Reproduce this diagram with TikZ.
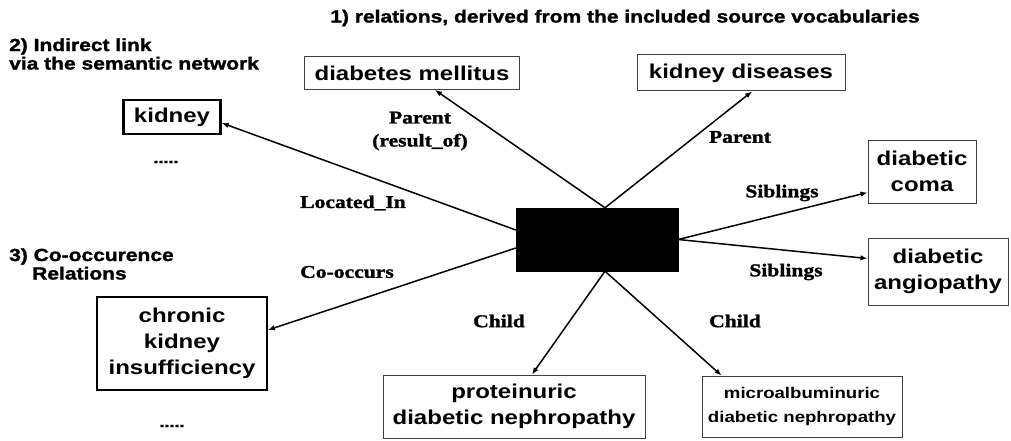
\documentclass[tikz,border=0pt]{standalone}
\usepackage{fontspec}
\setmainfont{Liberation Sans}
\newfontfamily\hfont[FakeStretch=1.2,FakeBold=1.5]{Liberation Sans Bold}
\newfontfamily\bxfont[FakeStretch=1.2]{Liberation Sans Bold}
\newfontfamily\lbfont[FakeStretch=1.2,FakeBold=1.5]{Liberation Serif Bold}
\usetikzlibrary{arrows.meta}
\tikzset{
  heading/.style={font=\hfont\fontsize{17.5}{18.5}\selectfont, inner sep=0, align=left},
  cbox/.style={draw=black!75, line width=1pt, inner sep=0, align=center,
    font=\bxfont\fontsize{20}{26}\selectfont},
  rel/.style={font=\lbfont\fontsize{18}{23}\selectfont, inner sep=0, align=center},
  conn/.style={line width=1.5pt, -{Latex[length=7pt,width=5.5pt]}},
  dots/.style={font=\hfont\fontsize{15}{15}\selectfont, inner sep=0}
}
\begin{document}
\begin{tikzpicture}[x=1pt,y=-1pt]
\path[use as bounding box, fill=white] (0,0) rectangle (1011,441);
% headings
\node[heading] (t1) at (625,18) {1) relations, derived from the included source vocabularies};
\node[heading, anchor=west] (t2) at (9,54) {2) Indirect link\\via the semantic network};
\node[heading, anchor=west] (t3) at (9,264) {3) Co-occurence\\\hspace*{23pt}Relations};
% central node
\node[draw=black, fill=black, minimum width=162pt, minimum height=63pt, inner sep=0] (bb) at (597,239.5) {};
% concept boxes
\node[cbox, draw=black, line width=2.5pt, minimum width=97pt, minimum height=34pt] (kid) at (172,117) {kidney};
\node[cbox, minimum width=215pt, minimum height=33pt] (dm) at (412,73) {diabetes mellitus};
\node[cbox, minimum width=208pt, minimum height=36pt] (kd) at (741,73) {kidney diseases};
\node[cbox, minimum width=108pt, minimum height=63pt] (dc) at (922,171.5) {diabetic\\coma};
\node[cbox, minimum width=140pt, minimum height=67pt] (da) at (938,271.5) {diabetic\\angiopathy};
\node[cbox, draw=black, line width=1.8pt, minimum width=170pt, minimum height=93pt] (ch) at (182,343.5) {chronic\\kidney\\insufficiency};
\node[cbox, minimum width=262pt, minimum height=63pt] (pd) at (514,406.5) {proteinuric\\diabetic nephropathy};
\node[cbox, font=\bxfont\fontsize{15.5}{24}\selectfont, minimum width=200pt, minimum height=61pt] (md) at (802,406.5) {microalbuminuric\\diabetic nephropathy};
% dots
\node[dots] (d1) at (166,162) {.....};
\node[dots] (d2) at (172,426) {.....};
% connectors
\draw[conn] ([xshift=8pt]bb.north) -- ([xshift=23pt]dm.south);
\draw[conn] ([xshift=8pt]bb.north) -- ([xshift=11pt]kd.south);
\draw[conn] ([yshift=9.5pt]bb.west) -- ([yshift=-6pt]kid.east);
\draw[conn] ([yshift=-8.5pt]bb.west) -- ([yshift=13.5pt]ch.east);
\draw[conn] (bb.east) -- ([yshift=-21pt]dc.west);
\draw[conn] (bb.east) -- ([yshift=13pt]da.west);
\draw[conn] ([xshift=8pt]bb.south) -- ([xshift=18pt]pd.north);
\draw[conn] ([xshift=8pt]bb.south) -- ([xshift=20pt]md.north west);
% relation labels
\node[rel] (lp1) at (420,131) {Parent\\(result\_of)};
\node[rel] (lp2) at (740,137) {Parent};
\node[rel] (lli) at (353,203) {Located\_In};
\node[rel] (lco) at (347,272) {Co-occurs};
\node[rel] (ls1) at (782,193) {Siblings};
\node[rel] (ls2) at (786,272) {Siblings};
\node[rel] (lc1) at (499,321) {Child};
\node[rel] (lc2) at (735,321) {Child};
\end{tikzpicture}
\end{document}
